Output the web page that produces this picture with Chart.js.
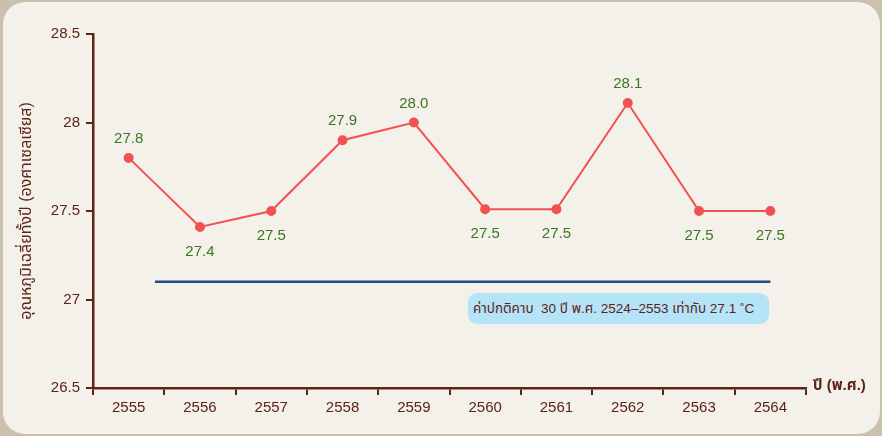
<!DOCTYPE html>
<html>
<head>
<meta charset="utf-8">
<script src="https://cdn.jsdelivr.net/npm/chart.js@4"></script>
<style>
  html, body { margin: 0; padding: 0; }
  body { width: 882px; height: 436px; background: #cbbfae; overflow: hidden; }
  .panel {
    position: absolute; left: 3px; top: 2px; width: 877px; height: 432px;
    background: #f4f0ea; border-radius: 22px;
  }
  .wrap { position: absolute; left: 0; top: 0; width: 882px; height: 436px; }
  .note {
    position: absolute; left: 468px; top: 293px; width: 301px; height: 31px;
    background: #b5e3f7; border-radius: 9px; color: #5a2418;
    font: 13.5px "Liberation Sans", "Noto Sans Thai", sans-serif;
    line-height: 31px; box-sizing: border-box; padding-left: 5px; white-space: pre;
  }
</style>
</head>
<body>
<div class="panel"></div>
<div class="wrap"><canvas id="chart" width="882" height="436"></canvas></div>
<div class="note">ค่าปกติคาบ  30 ปี พ.ศ. 2524–2553 เท่ากับ 27.1 ˚C</div>
<script>
// ปี พ.ศ.
var years = ['2555', '2556', '2557', '2558', '2559', '2560', '2561', '2562', '2563', '2564'];
// อุณหภูมิเฉลี่ยทั้งปี
var temps = [27.8, 27.41, 27.5, 27.9, 28.0, 27.51, 27.51, 28.11, 27.5, 27.5];
// label above (true) or below (false) the point
var labelAbove = [true, false, false, true, true, false, false, true, false, false];
// ค่าปกติ 30 ปี
var normalValue = 27.1;
var normalFrom = 0.37;   // category index where the normal line starts
var normalTo = 9;        // category index where it ends
var yTicks = [26.5, 27, 27.5, 28, 28.5];

var brown = '#5c2317';
var font = '"Liberation Sans", "Noto Sans Thai", sans-serif';

var pointLabels = {
  id: 'pointLabels',
  afterDatasetsDraw: function(chart) {
    var ctx = chart.ctx;
    var meta = chart.getDatasetMeta(1);
    ctx.save();
    ctx.fillStyle = '#3b7622';
    ctx.font = '15px ' + font;
    ctx.textAlign = 'center';
    ctx.textBaseline = 'middle';
    meta.data.forEach(function(pt, i) {
      var dy = labelAbove[i] ? -19 : 25;
      ctx.fillText(temps[i].toFixed(1), pt.x, pt.y + dy);
    });
    ctx.restore();
  }
};

var xTitle = {
  id: 'xTitle',
  afterDraw: function(chart) {
    var ctx = chart.ctx;
    var a = chart.chartArea;
    ctx.save();
    ctx.fillStyle = brown;
    ctx.font = 'bold 15px ' + font;
    ctx.textAlign = 'left';
    ctx.textBaseline = 'middle';
    ctx.fillText('ปี (พ.ศ.)', a.right + 7, a.bottom - 2);
    ctx.restore();
  }
};

new Chart(document.getElementById('chart'), {
  type: 'line',
  data: {
    labels: years,
    datasets: [
      {
        label: 'normal',
        xAxisID: 'x2',
        data: [{ x: normalFrom, y: normalValue }, { x: normalTo, y: normalValue }],
        borderColor: '#1f4e87',
        borderWidth: 2.5,
        pointRadius: 0
      },
      {
        label: 'temp',
        data: temps,
        borderColor: '#f05252',
        backgroundColor: '#f05252',
        borderWidth: 2,
        pointRadius: 4,
        pointHoverRadius: 4,
        tension: 0
      }
    ]
  },
  options: {
    responsive: false,
    animation: false,
    layout: { padding: { left: 0, top: 34, right: 76, bottom: 0 } },
    plugins: { legend: { display: false }, tooltip: { enabled: false } },
    scales: {
      x: {
        type: 'category',
        offset: true,
        grid: { offset: true, drawOnChartArea: false, color: brown, lineWidth: 2, tickLength: 7 },
        border: { color: brown, width: 2.5 },
        ticks: { color: brown, font: { size: 15, family: font }, padding: 4, maxRotation: 0 },
        afterFit: function(s) { s.height = 48; }
      },
      x2: {
        type: 'linear',
        display: false,
        min: -0.5,
        max: 9.5
      },
      y: {
        min: 26.5,
        max: 28.5,
        afterBuildTicks: function(s) { s.ticks = yTicks.map(function(v) { return { value: v }; }); },
        grid: { drawOnChartArea: false, color: brown, lineWidth: 2, tickLength: 7 },
        border: { color: brown, width: 2.5 },
        ticks: {
          color: brown,
          font: { size: 15, family: font },
          padding: 6,
          callback: function(v) { return String(v); }
        },
        title: {
          display: true,
          text: 'อุณหภูมิเฉลี่ยทั้งปี (องศาเซลเซียส)',
          color: brown,
          font: { size: 16, family: font },
          padding: { top: 17, bottom: 0 }
        },
        afterFit: function(s) { s.width = 93; }
      }
    }
  },
  plugins: [pointLabels, xTitle]
});
</script>
</body>
</html>
